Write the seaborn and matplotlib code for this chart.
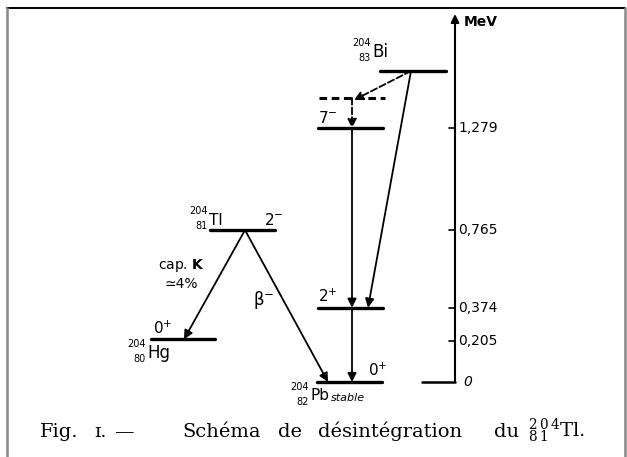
import pandas as pd
import seaborn as sns
from matplotlib import pyplot as plt
from matplotlib.lines import Line2D

# energy levels (MeV), read from the scheme
level_names = ["Bi", "virt", "Pb7", "Tl", "Hg", "Pb2", "Pb0"]
level_energy = [1.566, 1.430, 1.279, 0.765, 0.215, 0.374, 0.0]
spins = {"Pb7": "7$^{-}$", "Tl": "2$^{-}$", "Hg": "0$^{+}$", "Pb2": "2$^{+}$", "Pb0": "0$^{+}$"}
nuclides = {"Bi": ("204", "83", "Bi"), "Tl": ("204", "81", "Tl"),
            "Hg": ("204", "80", "Hg"), "Pb0": ("204", "82", "Pb")}
axis_ticks = [0.205, 0.374, 0.765, 1.279]
axis_labels = ["0,205", "0,374", "0,765", "1,279"]
caption_words = ["Fig.", "\u026a.", "\u2014", "Sch\u00e9ma", "de", "d\u00e9sint\u00e9gration", "du",
                 r"$^{\,2\,0\,4}_{\,8\,1}$Tl."]

# layout (pixel columns of the drawing)
W, H = 627, 457
x_span = {"Bi": (380, 446), "virt": (319, 385), "Pb7": (318, 383), "Tl": (210, 275),
          "Hg": (151, 215), "Pb2": (318, 383), "Pb0": (317, 382)}
px_per_mev = 198.6
y_zero = 382
caption_x = [40, 94, 114, 182, 278, 318, 494, 526]
# symbol left x, symbol centre offset (px, up), symbol size
nuclide_pos = {"Bi": (372, 19, 12), "Tl": (209, 10, 11), "Hg": (147, -14, 12), "Pb0": (310, -14, 11)}


def mev(ypix):
    return (y_zero - ypix) / px_per_mev


E = dict(zip(level_names, level_energy))

rows = []
for name in level_names:
    for x in x_span[name]:
        rows.append({"level": name, "x": x, "E": E[name]})
df = pd.DataFrame(rows)

sns.set_theme(style="white")
plt.rcParams["font.family"] = ["DejaVu Sans"]
plt.rcParams["mathtext.fontset"] = "dejavusans"
plt.rcParams["mathtext.default"] = "regular"
plt.rcParams["text.color"] = "black"

fig = plt.figure(figsize=(W / 100, H / 100), dpi=100)
fig.patch.set_facecolor("white")
ax = fig.add_axes([0, 0, 1, 1])
ax.set_xlim(0, W)
ax.set_ylim(mev(H), mev(0))
ax.axis("off")

solid = df[df["level"] != "virt"]
dashed = df[df["level"] == "virt"]
sns.lineplot(data=solid, x="x", y="E", units="level", estimator=None, sort=False,
             color="black", lw=2.4, ax=ax, legend=False)
sns.lineplot(data=dashed, x="x", y="E", units="level", estimator=None, sort=False,
             color="black", lw=2.2, ax=ax, legend=False, linestyle=(0, (2.5, 1.5)))


def arrow(x0, e0, x1, e1, ls="-"):
    ax.annotate("", xy=(x1, e1), xytext=(x0, e0),
                arrowprops=dict(arrowstyle="-|>", lw=1.3, color="black", linestyle=ls,
                                mutation_scale=13, shrinkA=0, shrinkB=0))


# transitions
arrow(245, E["Tl"], 184, E["Hg"])
arrow(245, E["Tl"], 328, E["Pb0"])
arrow(411, E["Bi"], 368, E["Pb2"])
arrow(411, E["Bi"], 354, E["virt"] - 0.01, ls="--")
arrow(352, E["virt"], 352, E["Pb7"], ls="--")
arrow(352, E["Pb7"], 352, E["Pb2"])
arrow(352, E["Pb2"], 352, E["Pb0"])

# energy axis
ax.annotate("", xy=(455, mev(14)), xytext=(455, 0),
            arrowprops=dict(arrowstyle="-|>", lw=1.5, color="black", mutation_scale=12,
                            shrinkA=0, shrinkB=0))
ax.plot([422, 455], [0, 0], color="black", lw=1.8)
for t, lab in zip(axis_ticks, axis_labels):
    ax.plot([449, 455], [t, t], color="black", lw=1.2)
    ax.text(458, t, lab, fontsize=10, va="center", ha="left")
ax.text(463, 0, "0", fontsize=10, va="center", ha="left", style="italic")
ax.text(464, mev(22), "MeV", fontsize=10, va="center", ha="left", fontweight="semibold")

# spins
spin_pos = {"Pb7": (318, 10), "Tl": (264, 10), "Hg": (153, 11), "Pb2": (318, 11), "Pb0": (368, 12)}
for name, (x, dy) in spin_pos.items():
    ax.annotate(spins[name], xy=(x, E[name]), xytext=(0, dy), textcoords="offset pixels",
                fontsize=11, ha="left", va="center")

# nuclides
for name, (a, z, sym) in nuclides.items():
    x, dy, size = nuclide_pos[name]
    ax.annotate(sym, xy=(x, E[name]), xytext=(0, dy), textcoords="offset pixels",
                fontsize=size, ha="left", va="center")
    ax.annotate(a, xy=(x - 1, E[name]), xytext=(0, dy + 9), textcoords="offset pixels",
                fontsize=7, ha="right", va="center")
    ax.annotate(z, xy=(x - 1, E[name]), xytext=(0, dy - 6), textcoords="offset pixels",
                fontsize=7, ha="right", va="center")
ax.annotate("stable", xy=(331, E["Pb0"]), xytext=(0, -16), textcoords="offset pixels",
            fontsize=8, ha="left", va="center", style="italic")

ax.text(181, mev(274), "cap. $\\mathit{\\mathbf{K}}$\n\u22434%", fontsize=10,
        ha="center", va="center", linespacing=1.3)
ax.text(264, mev(300), r"$\beta^{-}$", fontsize=12, ha="center", va="center")

# frame
fig.add_artist(Line2D([7 / W, 625 / W], [1 - 8 / H, 1 - 8 / H], color="black", lw=1.4,
                      transform=fig.transFigure))
for xf in (7, 625):
    fig.add_artist(Line2D([xf / W, xf / W], [0, 1 - 8 / H], color="#888888", lw=1.8,
                          transform=fig.transFigure))

# caption
for x, word in zip(caption_x, caption_words):
    fig.text(x / W, 1 - 437 / H, word, fontsize=14, family="DejaVu Serif",
             va="baseline", ha="left")

fig.savefig("out.png", dpi=100)
